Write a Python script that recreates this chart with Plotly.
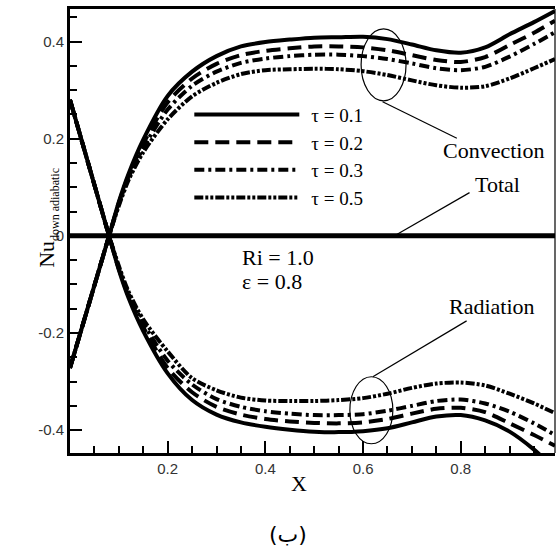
import plotly.graph_objects as go

# ---------------- data ----------------
x = [0.0, 0.04, 0.08, 0.10, 0.12, 0.15, 0.20, 0.25, 0.30, 0.35, 0.40, 0.45,
     0.50, 0.55, 0.60, 0.65, 0.70, 0.75, 0.80, 0.85, 0.90, 0.95, 0.993]

tau_labels = ["τ = 0.1", "τ = 0.2", "τ = 0.3", "τ = 0.5"]

conv_t01 = [-0.272, -0.136, 0.0, 0.070, 0.128, 0.198, 0.288, 0.338, 0.370, 0.390, 0.399, 0.404,
            0.408, 0.409, 0.410, 0.405, 0.394, 0.382, 0.377, 0.388, 0.415, 0.440, 0.463]
conv_t02 = [-0.272, -0.136, 0.0, 0.068, 0.124, 0.190, 0.275, 0.324, 0.354, 0.372, 0.381, 0.386,
            0.390, 0.390, 0.388, 0.382, 0.372, 0.362, 0.358, 0.368, 0.393, 0.418, 0.443]
conv_t03 = [-0.272, -0.136, 0.0, 0.066, 0.120, 0.181, 0.260, 0.309, 0.338, 0.356, 0.365, 0.370,
            0.373, 0.373, 0.370, 0.364, 0.355, 0.345, 0.341, 0.348, 0.369, 0.395, 0.419]
conv_t05 = [-0.272, -0.136, 0.0, 0.062, 0.115, 0.172, 0.240, 0.287, 0.315, 0.333, 0.341, 0.343,
            0.344, 0.343, 0.339, 0.331, 0.320, 0.310, 0.305, 0.308, 0.324, 0.345, 0.364]

rad_t01 = [0.280, 0.140, 0.0, -0.070, -0.128, -0.196, -0.283, -0.338, -0.368, -0.384, -0.393, -0.399,
           -0.403, -0.404, -0.402, -0.396, -0.384, -0.372, -0.369, -0.380, -0.403, -0.440, -0.480]
rad_t02 = [0.280, 0.140, 0.0, -0.068, -0.124, -0.188, -0.272, -0.322, -0.352, -0.368, -0.377, -0.382,
           -0.385, -0.386, -0.384, -0.377, -0.366, -0.356, -0.354, -0.363, -0.386, -0.410, -0.432]
rad_t03 = [0.280, 0.140, 0.0, -0.066, -0.120, -0.180, -0.257, -0.306, -0.336, -0.352, -0.361, -0.366,
           -0.369, -0.369, -0.367, -0.360, -0.350, -0.340, -0.337, -0.345, -0.362, -0.386, -0.410]
rad_t05 = [0.280, 0.140, 0.0, -0.062, -0.115, -0.172, -0.238, -0.293, -0.318, -0.333, -0.339, -0.340,
           -0.340, -0.338, -0.334, -0.325, -0.313, -0.304, -0.302, -0.308, -0.325, -0.345, -0.365]

total = [0.0] * len(x)

x_tickvals = [0.2, 0.4, 0.6, 0.8]
x_ticktext = ["0.2", "0.4", "0.6", "0.8"]
y_tickvals = [-0.4, -0.2, 0.0, 0.2, 0.4]
y_ticktext = ["-0.4", "-0.2", "0", "0.2", "0.4"]

# ---------------- styles ----------------
dashes = ["solid", "14px,7px", "10px,4px,3px,4px", "9px,2px,3px,2px,3px,2px"]
LW = 4
SERIF = "Liberation Serif, Times New Roman, serif"
SANS = "Liberation Sans, Arial, sans-serif"

fig = go.Figure()
for lab, cv, dsh in zip(tau_labels, [conv_t01, conv_t02, conv_t03, conv_t05], dashes):
    fig.add_trace(go.Scatter(x=x, y=cv, mode="lines", name=lab,
                             line=dict(color="black", width=LW, dash=dsh, shape="spline", smoothing=0.8)))
for lab, rv, dsh in zip(tau_labels, [rad_t01, rad_t02, rad_t03, rad_t05], dashes):
    fig.add_trace(go.Scatter(x=x, y=rv, mode="lines", name=lab + " (radiation)", showlegend=False,
                             line=dict(color="black", width=LW, dash=dsh, shape="spline", smoothing=0.8)))
fig.add_trace(go.Scatter(x=x, y=total, mode="lines", name="Total", showlegend=False,
                         line=dict(color="black", width=5)))

minor = dict(ticklen=7, tickwidth=1.5, tickcolor="black", dtick=0.05, tick0=0, ticks="inside")

fig.update_xaxes(range=[0, 0.993], showline=True, linewidth=3, linecolor="black", mirror=True,
                 ticks="inside", ticklen=12, tickwidth=2, tickcolor="black",
                 tickmode="array", tickvals=x_tickvals, ticktext=x_ticktext,
                 tickfont=dict(family=SANS, size=15, color="#333"),
                 showgrid=False, zeroline=False, minor=minor)
fig.update_yaxes(range=[-0.447, 0.467], showline=True, linewidth=3, linecolor="black",
                 ticks="inside", ticklen=12, tickwidth=2, tickcolor="black",
                 tickmode="array", tickvals=y_tickvals, ticktext=y_ticktext,
                 tickfont=dict(family=SANS, size=15, color="#333"), ticklabelstandoff=0,
                 showgrid=False, zeroline=False, minor=minor)

shapes = [
    # thin right frame
    dict(type="line", xref="paper", yref="paper", x0=1, x1=1, y0=0, y1=1,
         line=dict(color="black", width=1.2)),
    # convection ellipse + leader
    dict(type="circle", xref="x", yref="y", x0=0.596, x1=0.688, y0=0.278, y1=0.426,
         line=dict(color="black", width=1.2)),
    dict(type="line", xref="x", yref="y", x0=0.640, y0=0.276, x1=0.792, y1=0.201,
         line=dict(color="black", width=1.2)),
    # total leader
    dict(type="line", xref="x", yref="y", x0=0.669, y0=0.003, x1=0.818, y1=0.089,
         line=dict(color="black", width=1.2)),
    # radiation ellipse + leader
    dict(type="circle", xref="x", yref="y", x0=0.573, x1=0.661, y0=-0.428, y1=-0.290,
         line=dict(color="black", width=1.2)),
    dict(type="line", xref="x", yref="y", x0=0.620, y0=-0.290, x1=0.812, y1=-0.175,
         line=dict(color="black", width=1.2)),
]

annots = [
    dict(x=0.867, y=0.176, text="Convection", size=22),
    dict(x=0.876, y=0.106, text="Total", size=22),
    dict(x=0.865, y=-0.146, text="Radiation", size=22),
]
annotations = [dict(x=a["x"], y=a["y"], xref="x", yref="y", text=a["text"], showarrow=False,
                    font=dict(family=SERIF, size=a["size"], color="black")) for a in annots]
annotations += [
    dict(x=0.348, y=-0.044, xref="x", yref="y", text="Ri = 1.0", showarrow=False, xanchor="left",
         font=dict(family=SERIF, size=22, color="black")),
    dict(x=0.348, y=-0.093, xref="x", yref="y", text="ε = 0.8", showarrow=False, xanchor="left",
         font=dict(family=SERIF, size=22, color="black")),
    dict(x=-0.078, y=0.53, xref="paper", yref="paper", textangle=-90, showarrow=False,
         text="Nu<sub><span style='font-size:12px'>down adiabatic</span></sub>",
         font=dict(family=SERIF, size=22, color="black")),
    dict(x=0.472, y=-0.068, xref="paper", yref="paper", text="X", showarrow=False, yanchor="middle",
         font=dict(family=SERIF, size=22, color="black")),
    dict(x=0.449, y=-0.183, xref="paper", yref="paper", text="(ب)", showarrow=False, yanchor="middle",
         font=dict(family="DejaVu Sans", size=22, color="black")),
]

fig.update_layout(
    width=558, height=557,
    margin=dict(l=70, r=3, t=9, b=104),
    plot_bgcolor="white", paper_bgcolor="white",
    shapes=shapes, annotations=annotations,
    showlegend=True,
    legend=dict(x=0.246, y=0.805, xanchor="left", yanchor="top", bgcolor="rgba(0,0,0,0)",
                borderwidth=0, itemwidth=112, tracegroupgap=0,
                font=dict(family=SERIF, size=19, color="black")),
)

post = ("document.querySelectorAll('g.legendlines path').forEach(function(p){"
        "p.setAttribute('d','M5,0h105');});")
fig.write_html("out.html", post_script=post)
